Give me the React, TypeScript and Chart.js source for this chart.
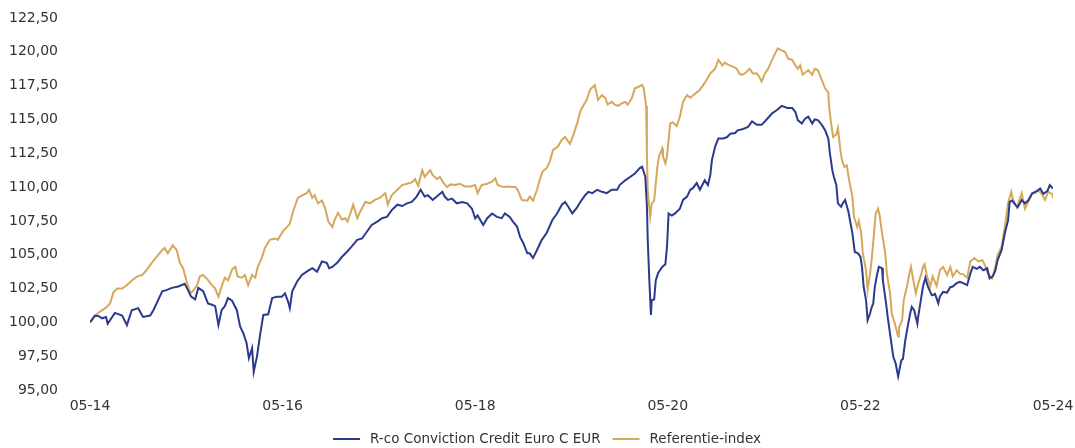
import React, { useEffect, useRef } from "react";
import { Chart, registerables } from "chart.js";

Chart.register(...registerables);

// Months elapsed since May 2014
const fundMonths = [
  0, 0.6, 1.1, 1.5, 2.0, 2.2, 3.1, 4.0, 4.6, 5.2, 6.0, 6.6, 7.5, 7.9, 8.3, 9.0, 9.6, 10.2, 11.0, 11.8,
  12.2, 12.6, 13.1, 13.5, 14.1, 14.7, 15.2, 15.6, 16.0, 16.4, 16.8, 17.2, 17.7, 18.3, 18.7, 19.1, 19.5, 19.8,
  20.2, 20.4, 20.8, 21.2, 21.6, 22.2, 22.7, 23.3, 23.9, 24.3, 24.7, 24.9, 25.2, 25.8, 26.4, 27.0, 27.7, 28.3,
  28.9, 29.5, 29.8, 30.2, 30.8, 31.4, 32.0, 32.6, 33.3, 33.9, 34.5, 35.1, 35.8, 36.4, 37.0, 37.6, 38.3, 38.9,
  39.5, 40.1, 40.7, 41.2, 41.7, 42.1, 42.7, 43.4, 43.9, 44.2, 44.6, 45.1, 45.7, 46.4, 47.0, 47.6, 48.0, 48.3,
  49.0, 49.5, 50.1, 50.7, 51.3, 51.7, 52.3, 52.7, 53.2, 53.6, 54.0, 54.5, 54.8, 55.2, 55.7, 56.3, 56.9, 57.6,
  58.2, 58.8, 59.2, 59.6, 60.1, 60.7, 61.1, 61.7, 62.1, 62.6, 63.2, 63.8, 64.4, 65.0, 65.7, 66.0, 66.7, 67.3,
  67.9, 68.5, 68.8, 69.2, 69.4, 69.5, 69.7, 69.9, 70.0, 70.3, 70.5, 70.8, 71.3, 71.7, 71.9, 72.1, 72.5, 72.9,
  73.5, 73.9, 74.4, 74.8, 75.1, 75.6, 76.0, 76.6, 77.0, 77.3, 77.5, 77.9, 78.3, 78.9, 79.4, 79.8, 80.4, 80.7,
  81.4, 82.0, 82.5, 83.1, 83.7, 84.4, 85.0, 85.6, 86.2, 86.9, 87.5, 87.9, 88.2, 88.7, 89.1, 89.5, 90.0, 90.3,
  90.7, 91.2, 91.6, 92.0, 92.2, 92.5, 92.7, 93.0, 93.2, 93.6, 93.8, 94.1, 94.5, 94.7, 95.0, 95.3, 95.7, 96.0,
  96.2, 96.4, 96.7, 96.9, 97.2, 97.4, 97.6, 97.8, 98.1, 98.3, 98.7, 98.8, 99.2, 99.4, 99.8, 100.1, 100.4, 100.7,
  101.1, 101.3, 101.6, 101.9, 102.2, 102.4, 102.7, 103.1, 103.2, 103.6, 103.8, 104.1, 104.4, 104.9, 105.3,
  105.7, 105.9, 106.3, 106.8, 107.2, 107.5, 108.0, 108.4, 108.8, 109.3, 109.7, 110.0, 110.5, 110.9, 111.3,
  111.8, 112.1, 112.5, 112.8, 113.1, 113.6, 114.0, 114.4, 114.6, 114.9, 115.3, 115.6, 116.1, 116.5, 116.9,
  117.4, 118.0, 118.4, 118.8, 119.3, 119.6, 120.0,
];
const fundValues = [
  100.0, 100.5, 100.45, 100.3, 100.4, 99.9, 100.7, 100.5, 99.8, 100.9, 101.05, 100.4, 100.5, 100.9, 101.4, 102.3, 102.4, 102.55, 102.65, 102.85,
  102.4, 101.9, 101.7, 102.55, 102.3, 101.4, 101.3, 101.2, 99.8, 100.9, 101.2, 101.8, 101.6, 100.9, 99.7, 99.2, 98.5, 97.35,
  98.1, 96.35, 97.45, 99.1, 100.55, 100.6, 101.8, 101.9, 101.9, 102.15, 101.5, 101.05, 102.3, 103.0, 103.5, 103.75, 104.0, 103.75,
  104.5, 104.4, 104.0, 104.1, 104.4, 104.85, 105.2, 105.6, 106.1, 106.2, 106.7, 107.2, 107.45, 107.7, 107.8, 108.3, 108.7, 108.6,
  108.8, 108.9, 109.3, 109.8, 109.3, 109.4, 109.05, 109.4, 109.65, 109.3, 109.05, 109.15, 108.8, 108.9, 108.8, 108.4, 107.7, 107.9,
  107.2, 107.7, 108.05, 107.8, 107.7, 108.05, 107.8, 107.45, 107.1, 106.3, 105.85, 105.1, 105.1, 104.75, 105.35, 106.1, 106.6, 107.55,
  108.05, 108.7, 108.9, 108.55, 108.05, 108.5, 108.9, 109.4, 109.65, 109.55, 109.8, 109.65, 109.55, 109.8, 109.8, 110.15, 110.5, 110.75,
  111.0, 111.4, 111.5, 110.75, 108.55, 106.1, 103.1, 100.55, 101.65, 101.7, 103.1, 103.65, 104.1, 104.3, 105.6, 108.05, 107.9, 108.05,
  108.4, 109.05, 109.3, 109.8, 109.9, 110.3, 109.8, 110.5, 110.15, 110.9, 112.0, 113.0, 113.6, 113.6, 113.7, 113.95, 114.0, 114.2,
  114.3, 114.45, 114.85, 114.6, 114.6, 115.05, 115.45, 115.7, 116.0, 115.85, 115.85, 115.55, 114.95, 114.7, 115.05, 115.2, 114.7, 115.0,
  114.95, 114.6, 114.2, 113.6, 112.5, 111.25, 110.75, 110.15, 108.8, 108.55, 108.8, 109.05, 108.2, 107.55, 106.6, 105.2, 105.1, 104.85,
  104.1, 102.65, 101.65, 100.15, 100.65, 101.1, 101.4, 102.65, 103.6, 104.1, 104.0, 103.1, 101.4, 100.4, 98.7, 97.45, 96.95, 96.0,
  97.2, 97.3, 98.7, 99.7, 100.65, 101.15, 100.9, 99.9, 100.4, 101.9, 102.65, 103.3, 102.65, 102.0, 102.1,
  101.4, 101.9, 102.25, 102.2, 102.6, 102.65, 102.9, 103.0, 102.9, 102.75, 103.6, 104.1, 103.95, 104.1, 103.85,
  104.0, 103.25, 103.4, 103.8, 104.6, 105.35, 106.6, 107.55, 108.9, 109.0, 108.7, 108.5, 109.05, 108.8, 109.0,
  109.55, 109.7, 109.9, 109.5, 109.7, 110.15, 109.9,
];

const indexMonths = [
  0, 0.4, 1.0, 1.9, 2.5, 2.9, 3.4, 4.0, 4.6, 5.2, 5.9, 6.5, 7.1, 7.7, 8.3, 9.0, 9.3, 9.7, 10.3, 10.8,
  11.2, 11.6, 12.1, 12.5, 12.8, 13.3, 13.7, 14.1, 14.6, 15.2, 15.6, 16.0, 16.4, 16.8, 17.2, 17.7, 18.1, 18.4,
  18.9, 19.3, 19.7, 20.2, 20.6, 20.9, 21.4, 21.8, 22.4, 23.1, 23.4, 24.1, 24.5, 24.9, 25.3, 25.9, 26.5, 27.0,
  27.3, 27.7, 28.0, 28.4, 28.9, 29.3, 29.7, 30.2, 30.5, 30.9, 31.4, 31.8, 32.1, 32.8, 33.3, 33.6, 34.3, 34.9,
  35.5, 36.1, 36.8, 37.1, 37.6, 38.3, 38.9, 39.5, 40.1, 40.5, 40.9, 41.4, 41.7, 42.4, 42.7, 43.2, 43.6, 44.0,
  44.5, 44.9, 45.5, 46.1, 46.7, 47.4, 48.0, 48.3, 48.8, 49.5, 50.1, 50.5, 50.8, 51.5, 52.0, 52.6, 53.0, 53.3,
  53.8, 54.5, 54.8, 55.2, 55.7, 56.1, 56.4, 56.9, 57.3, 57.7, 58.3, 58.8, 59.2, 59.8, 60.2, 60.7, 61.1, 61.4,
  61.9, 62.3, 62.9, 63.3, 63.8, 64.2, 64.5, 65.0, 65.4, 65.8, 66.3, 66.7, 67.0, 67.5, 67.9, 68.3, 68.8, 69.0,
  69.3, 69.4, 69.5, 69.8, 70.0, 70.3, 70.7, 70.9, 71.3, 71.4, 71.7, 71.9, 72.3, 72.6, 73.1, 73.5, 73.9, 74.4,
  74.8, 75.4, 76.0, 76.6, 77.3, 77.9, 78.3, 78.8, 79.1, 79.5, 80.1, 80.6, 80.9, 81.2, 81.6, 82.2, 82.6, 83.1,
  83.5, 83.7, 84.1, 84.5, 85.0, 85.4, 85.7, 86.2, 86.6, 87.0, 87.5, 87.9, 88.2, 88.5, 88.8, 89.5, 90.0, 90.3,
  90.7, 91.2, 91.6, 92.0, 92.1, 92.3, 92.6, 93.0, 93.2, 93.5, 93.7, 94.0, 94.3, 94.6, 95.0, 95.2, 95.6, 95.8,
  96.1, 96.3, 96.7, 96.9, 97.2, 97.4, 97.7, 97.9, 98.2, 98.4, 98.7, 99.1, 99.3, 99.7, 99.9, 100.3, 100.7, 100.8,
  101.2, 101.4, 101.8, 102.1, 102.3, 102.6, 102.9, 103.2, 103.6, 103.8, 104.0, 104.3, 104.7, 105.0, 105.5,
  105.9, 106.3, 106.8, 107.2, 107.5, 108.0, 108.4, 108.8, 109.3, 109.7, 110.2, 110.7, 111.2, 111.5, 111.9,
  112.4, 112.8, 113.1, 113.6, 114.0, 114.4, 114.8, 115.0, 115.5, 116.1, 116.5, 116.9, 117.4, 117.8, 118.1,
  118.6, 119.0, 119.4, 119.9, 120.0,
];
const indexValues = [
  100.0, 100.3, 100.7, 101.05, 101.4, 102.2, 102.5, 102.5, 102.75, 103.1, 103.4, 103.5, 103.9, 104.4, 104.85, 105.35, 105.5, 105.1, 105.7, 105.35,
  104.4, 104.0, 102.9, 102.15, 102.3, 102.7, 103.4, 103.5, 103.2, 102.75, 102.5, 101.9, 102.65, 103.3, 103.1, 103.9, 104.1, 103.4,
  103.3, 103.5, 102.75, 103.5, 103.3, 104.1, 104.75, 105.5, 106.1, 106.2, 106.1, 106.8, 107.0, 107.3, 108.2, 109.2, 109.4, 109.55,
  109.8, 109.2, 109.4, 108.8, 109.0, 108.45, 107.45, 107.05, 107.6, 108.1, 107.6, 107.7, 107.45, 108.7, 107.7, 108.1, 108.9, 108.8,
  109.05, 109.2, 109.55, 108.7, 109.4, 109.8, 110.15, 110.25, 110.35, 110.6, 110.1, 111.25, 110.75, 111.25, 110.9, 110.6, 110.75, 110.35,
  110.0, 110.2, 110.15, 110.25, 110.05, 110.05, 110.15, 109.55, 110.15, 110.25, 110.4, 110.65, 110.15, 110.0, 110.05, 110.0, 110.0, 109.8,
  109.05, 109.0, 109.3, 109.0, 109.8, 110.65, 111.15, 111.4, 111.9, 112.75, 113.0, 113.5, 113.7, 113.2, 113.8, 114.7, 115.6, 115.95,
  116.45, 117.2, 117.55, 116.45, 116.8, 116.6, 116.1, 116.3, 116.1, 116.0, 116.2, 116.3, 116.1, 116.55, 117.3, 117.4, 117.55, 117.3,
  116.0, 112.25, 109.8, 107.8, 108.8, 109.0, 111.5, 112.25, 112.85, 112.25, 111.75, 112.3, 114.7, 114.8, 114.5, 115.2, 116.3, 116.8,
  116.6, 116.9, 117.2, 117.7, 118.4, 118.75, 119.4, 119.0, 119.2, 119.05, 118.9, 118.75, 118.4, 118.3, 118.4, 118.75, 118.4, 118.4,
  118.05, 117.8, 118.4, 118.75, 119.4, 119.9, 120.25, 120.1, 120.0, 119.5, 119.4, 119.0, 118.75, 119.0, 118.3, 118.65, 118.3, 118.75,
  118.65, 117.9, 117.3, 117.0, 115.95, 114.95, 113.7, 113.9, 114.35, 112.75, 112.0, 111.5, 111.6, 110.5, 109.3, 107.8, 107.05, 107.5,
  106.6, 105.1, 103.85, 102.4, 103.6, 104.6, 106.6, 108.05, 108.4, 107.9, 106.6, 105.1, 103.6, 102.15, 100.65, 99.9, 98.95, 99.6,
  100.15, 101.65, 102.65, 103.6, 104.1, 103.1, 102.15, 102.85, 103.6, 104.1, 104.3, 103.4, 102.65, 103.4, 102.7,
  103.85, 104.1, 103.5, 104.1, 103.4, 103.85, 103.6, 103.55, 103.3, 104.5, 104.75, 104.5, 104.6, 104.25, 103.6,
  103.25, 104.1, 105.0, 105.6, 107.05, 108.8, 109.65, 109.1, 108.5, 109.55, 108.4, 108.9, 109.5, 109.55, 109.8,
  109.5, 109.05, 109.65, 109.5, 109.2,
];

const seriesNames = ["R-co Conviction Credit Euro C EUR", "Referentie-index"];
const xTickLabels = ["05-14", "05-16", "05-18", "05-20", "05-22", "05-24"];
const yMin = 95;
const yMax = 122.5;
const yStep = 2.5;

const FONT = "'DejaVu Sans', sans-serif";
const TEXT_COLOR = "#333333";
const LEGEND_CENTER_X = 547;
const LEGEND_Y = 439;
const LEGEND_LINE = 27;
const LEGEND_TEXT_GAP = 10;
const LEGEND_ITEM_GAP = 12;

const bottomLegend = {
  id: "bottomLegend",
  afterDraw(chart: any) {
    const ctx = chart.ctx as CanvasRenderingContext2D;
    ctx.save();
    ctx.font = `13.5px ${FONT}`;
    ctx.textBaseline = "middle";
    ctx.textAlign = "left";
    const items = chart.data.datasets.map((ds: any) => ({ text: String(ds.label), color: ds.borderColor }));
    const widths = items.map((it: any) => LEGEND_LINE + LEGEND_TEXT_GAP + ctx.measureText(it.text).width);
    const total = widths.reduce((a: number, b: number) => a + b, 0) + LEGEND_ITEM_GAP * (items.length - 1);
    let x = LEGEND_CENTER_X - total / 2;
    items.forEach((it: any, i: number) => {
      ctx.strokeStyle = it.color;
      ctx.lineWidth = 2;
      ctx.beginPath();
      ctx.moveTo(x, LEGEND_Y);
      ctx.lineTo(x + LEGEND_LINE, LEGEND_Y);
      ctx.stroke();
      ctx.fillStyle = TEXT_COLOR;
      ctx.fillText(it.text, x + LEGEND_LINE + LEGEND_TEXT_GAP, LEGEND_Y + 0.5);
      x += widths[i] + LEGEND_ITEM_GAP;
    });
    ctx.restore();
  },
};

export default function App() {
  const canvasRef = useRef<HTMLCanvasElement | null>(null);

  useEffect(() => {
    const canvas = canvasRef.current;
    if (!canvas) return;
    const toPoints = (xs: number[], ys: number[]) => xs.map((x, i) => ({ x, y: ys[i] }));
    const chart = new Chart(canvas, {
      type: "line",
      data: {
        datasets: [
          {
            label: seriesNames[0],
            data: toPoints(fundMonths, fundValues),
            borderColor: "#2b3a8c",
            backgroundColor: "#2b3a8c",
            borderWidth: 2,
            pointRadius: 0,
            tension: 0,
          },
          {
            label: seriesNames[1],
            data: toPoints(indexMonths, indexValues),
            borderColor: "#d5a85b",
            backgroundColor: "#d5a85b",
            borderWidth: 2,
            pointRadius: 0,
            tension: 0,
          },
        ],
      },
      plugins: [bottomLegend],
      options: {
        animation: false,
        responsive: true,
        maintainAspectRatio: false,
        layout: { padding: { left: 0, right: 22, top: 18, bottom: 0 } },
        plugins: {
          tooltip: { enabled: false },
          legend: { display: false },
        },
        scales: {
          x: {
            type: "linear",
            min: 0,
            max: 120,
            grid: { display: false, drawTicks: false, tickLength: 0 },
            border: { display: false },
            afterFit: (scale: any) => {
              scale.height = 58;
              scale.paddingLeft = 0;
              scale.paddingRight = 0;
            },
            ticks: {
              stepSize: 24,
              autoSkip: false,
              maxRotation: 0,
              padding: 8,
              color: TEXT_COLOR,
              font: { family: FONT, size: 14 },
              callback: (v: any) => {
                const idx = Math.round(Number(v) / 24);
                return xTickLabels[idx] ?? "";
              },
            },
          },
          y: {
            min: yMin,
            max: yMax,
            grid: { display: false, drawTicks: false, tickLength: 0 },
            border: { display: false },
            afterFit: (scale: any) => {
              scale.width = 90;
              scale.paddingTop = 0;
              scale.paddingBottom = 0;
            },
            ticks: {
              stepSize: yStep,
              padding: 32,
              color: TEXT_COLOR,
              font: { family: FONT, size: 14 },
              callback: (v: any) => Number(v).toFixed(2).replace(".", ","),
            },
          },
        },
      },
    });
    return () => chart.destroy();
  }, []);

  return (
    <div style={{ position: "fixed", left: 0, top: 0, width: 1075, height: 448, overflow: "hidden", background: "#fff" }}>
      <canvas ref={canvasRef} />
    </div>
  );
}
